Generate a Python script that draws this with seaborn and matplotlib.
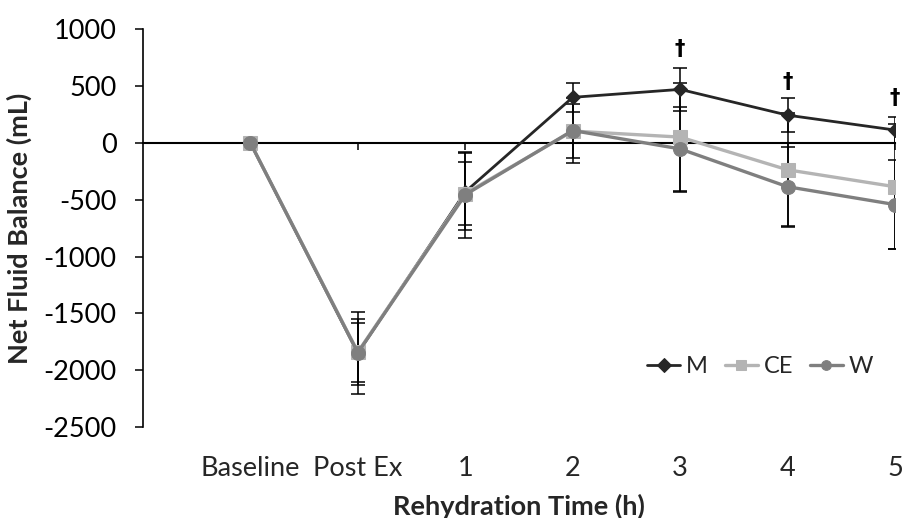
import matplotlib
matplotlib.use("Agg")
import matplotlib.pyplot as plt
import seaborn as sns
import numpy as np

categories = ["Baseline", "Post Ex", "1", "2", "3", "4", "5"]
M = [0, -1850, -430, 402, 472, 245, 114]
CE = [0, -1840, -445, 105, 52, -236, -385]
W = [0, -1845, -455, 110, -52, -385, -542]
M_sd = [0, 360, 340, 125, 190, 150, 113]
CE_sd = [0, 290, 280, 240, 480, 500, 550]
W_sd = [0, 260, 380, 290, 370, 350, 390]
dagger_idx = [4, 5, 6]
dagger_y = [827, 537, 396]
yticks = [1000, 500, 0, -500, -1000, -1500, -2000, -2500]

sns.set_theme(style="white")
plt.rcParams['font.family'] = ['Lato', 'DejaVu Sans']

fig = plt.figure(figsize=(9.02, 5.18), dpi=100)
ax = fig.add_axes([143/902, 91/518, (895-143)/902, (427-29.4)/518])
x = np.arange(len(categories))

series = [("M", M, M_sd, "#262626", "D", 7.5, 2.0),
          ("CE", CE, CE_sd, "#b4b4b4", "s", 9.5, 2.4),
          ("W", W, W_sd, "#7f7f7f", "o", 10, 2.4)]

for name, vals, sd, col, mk, ms, lw in series:
    ax.errorbar(x, vals, yerr=sd, fmt='none', ecolor='black', elinewidth=1.1,
                capsize=5, capthick=1.1, zorder=2)
for name, vals, sd, col, mk, ms, lw in series:
    sns.lineplot(x=x, y=vals, ax=ax, color=col, marker=mk, markersize=ms,
                 markeredgecolor=col, linewidth=lw, label=name, zorder=3)

ax.set_xlim(-1.0, 6.0)
ax.set_ylim(-2500, 1000)
ax.set_yticks(yticks)
ax.set_yticklabels([str(v) for v in yticks], fontsize=19.5)

for s in ["top", "right"]:
    ax.spines[s].set_visible(False)
ax.spines["left"].set_color("black")
ax.spines["left"].set_linewidth(1.2)
ax.spines["bottom"].set_position(("data", 0))
ax.spines["bottom"].set_color("black")
ax.spines["bottom"].set_linewidth(1.5)
ax.set_xticks(x)
ax.tick_params(axis="x", which="both", direction="out", length=5, width=1.1,
               colors="black", labelbottom=False, bottom=True)
ax.tick_params(axis="y", direction="out", length=6, width=1.1, colors="black",
               left=True, pad=13)

sec = ax.secondary_xaxis(0)
sec.set_xticks(x)
sec.set_xticklabels(categories, fontsize=19.5)
sec.tick_params(axis="x", length=0, pad=21)
sec.spines["bottom"].set_visible(False)

ax.set_ylabel("Net Fluid Balance (mL)", fontsize=19.5, fontweight="bold", labelpad=8)
sec.set_xlabel("Rehydration Time (h)", fontsize=19.5, fontweight="bold", labelpad=9)

for i, yv in zip(dagger_idx, dagger_y):
    ax.text(x[i], yv, "†", ha="center", va="center", fontsize=15, fontweight="bold",
            color="black", family=["DejaVu Sans"])

leg = ax.legend(loc="center right", bbox_to_anchor=((873-143)/752, 0.151), ncol=3,
                frameon=False, fontsize=17, handlelength=1.4, handletextpad=0.25,
                columnspacing=0.7, borderaxespad=0, borderpad=0)
for h in leg.legend_handles:
    h.set_markersize(7)

fig.savefig("out.png", dpi=100)
